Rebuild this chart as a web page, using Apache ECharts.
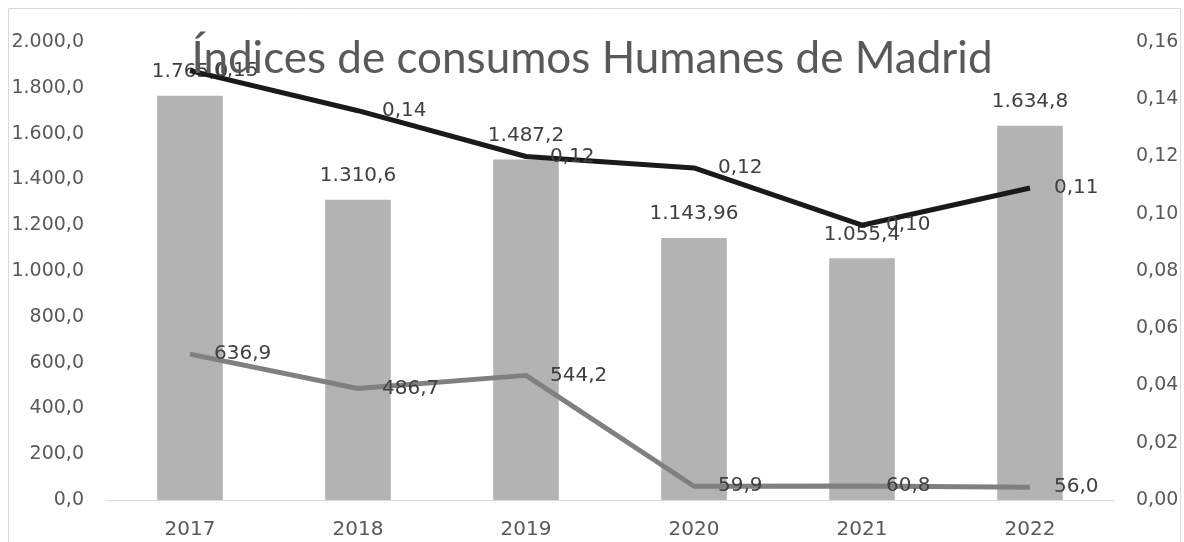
<!DOCTYPE html>
<html><head><meta charset="utf-8">
<script src="https://cdn.jsdelivr.net/npm/echarts@6/dist/echarts.min.js"></script>
<style>html,body{margin:0;padding:0;background:#fff}#c{width:1184px;height:542px}</style>
</head><body><div id="c"></div>
<script>
const categories = ['2017','2018','2019','2020','2021','2022'];
const barValues = [1765.0, 1310.6, 1487.2, 1143.96, 1055.4, 1634.8];
const greyLine = [636.9, 486.7, 544.2, 59.9, 60.8, 56.0];
const blackLine = [0.15, 0.136, 0.12, 0.116, 0.096, 0.109];

function fmt(v, dec) {
  const s = v.toFixed(dec);
  let [i, d] = s.split('.');
  i = i.replace(/\B(?=(\d{3})+(?!\d))/g, '.');
  return d !== undefined ? i + ',' + d : i;
}
function decs(v) {
  const p = String(v).split('.');
  return Math.max(1, p[1] ? p[1].length : 0);
}
const FONT = 'DejaVu Sans';
const chart = echarts.init(document.getElementById('c'));
chart.setOption({
  animation: false,
  textStyle: {fontFamily: FONT},
  graphic: [{type: 'rect', shape: {x: 8.5, y: 8.5, width: 1172, height: 540}, style: {fill: 'none', stroke: '#d9d9d9', lineWidth: 1}, silent: true}],
  title: {text: 'Índices de consumos Humanes de Madrid', left: 'center', top: 32,
    textStyle: {fontFamily: 'Lato', fontSize: 44, fontWeight: 'normal', color: '#595959'}},
  grid: {left: 106, right: 70, top: 42, bottom: 42},
  xAxis: {type: 'category', data: categories,
    axisLine: {lineStyle: {color: '#d9d9d9', width: 1}}, axisTick: {show: false},
    axisLabel: {color: '#595959', fontSize: 20, margin: 20, fontFamily: FONT}},
  yAxis: [
    {type: 'value', min: 0, max: 2000, interval: 200, splitLine: {show: false},
     axisLine: {show: false}, axisTick: {show: false},
     axisLabel: {color: '#595959', fontSize: 19, margin: 22, fontFamily: FONT, formatter: v => fmt(v, 1)}},
    {type: 'value', min: 0, max: 0.16, interval: 0.02, splitLine: {show: false},
     axisLine: {show: false}, axisTick: {show: false},
     axisLabel: {color: '#595959', fontSize: 19, margin: 22, fontFamily: FONT, formatter: v => fmt(v, 2)}}
  ],
  series: [
    {type: 'bar', data: barValues, barWidth: '39%', itemStyle: {color: '#b3b3b3'},
     label: {show: true, position: 'top', distance: 14, color: '#404040', fontSize: 20, fontFamily: FONT,
       formatter: p => fmt(p.value, decs(p.value))}},
    {type: 'line', data: greyLine, yAxisIndex: 0, symbol: 'circle', symbolSize: 0, showSymbol: true,
     itemStyle: {color: '#808080'}, lineStyle: {color: '#808080', width: 5},
     label: {show: true, position: 'right', distance: 24, color: '#404040', fontSize: 20, fontFamily: FONT,
       formatter: p => fmt(p.value, 1)}},
    {type: 'line', data: blackLine, yAxisIndex: 1, symbol: 'circle', symbolSize: 0, showSymbol: true,
     itemStyle: {color: '#1a1a1a'}, lineStyle: {color: '#1a1a1a', width: 5},
     label: {show: true, position: 'right', distance: 24, color: '#404040', fontSize: 20, fontFamily: FONT,
       formatter: p => fmt(p.value, 2)}}
  ]
});
</script></body></html>
